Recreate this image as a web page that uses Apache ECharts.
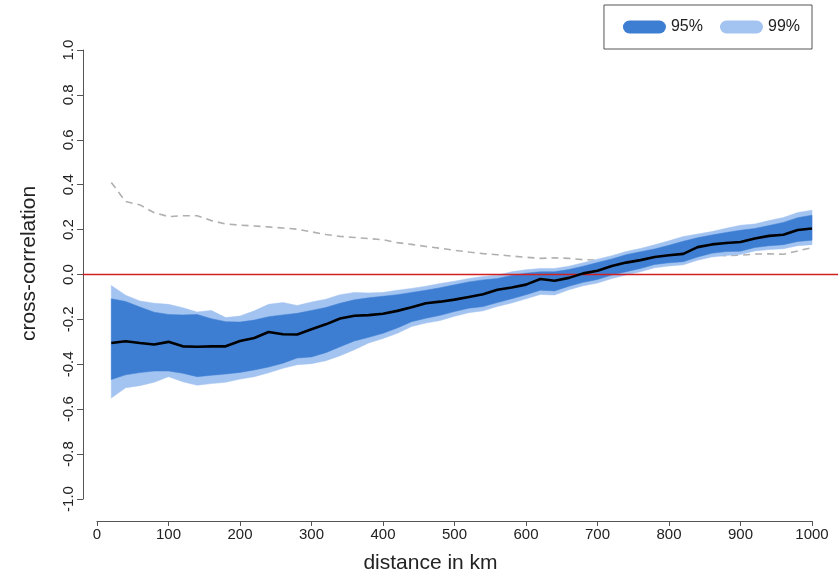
<!DOCTYPE html>
<html>
  <head>
    <meta charset="UTF-8">
    <title>cross-correlation</title>
    <script src="https://cdn.jsdelivr.net/npm/echarts@6/dist/echarts.min.js"></script>
    <style>
      html, body { margin: 0; padding: 0; background: #fff; }
      #chart { width: 838px; height: 579px; }
    </style>
  </head>
  <body>
    <div id="chart"></div>
    <script>
// distance (km)
const dist = [20, 40, 60, 80, 100, 120, 140, 160, 180, 200,
  220, 240, 260, 280, 300, 320, 340, 360, 380, 400,
  420, 440, 460, 480, 500, 520, 540, 560, 580, 600,
  620, 640, 660, 680, 700, 720, 740, 760, 780, 800,
  820, 840, 860, 880, 900, 920, 940, 960, 980, 1000];

// observed cross-correlation (black line)
const meanCorr = [-0.305, -0.297, -0.305, -0.312, -0.300, -0.320, -0.322, -0.320, -0.320, -0.296,
  -0.283, -0.256, -0.266, -0.267, -0.244, -0.222, -0.196, -0.184, -0.181, -0.175,
  -0.162, -0.146, -0.128, -0.121, -0.112, -0.100, -0.088, -0.068, -0.058, -0.045,
  -0.020, -0.028, -0.015, 0.005, 0.017, 0.038, 0.053, 0.064, 0.078, 0.086,
  0.092, 0.122, 0.134, 0.140, 0.145, 0.160, 0.172, 0.177, 0.198, 0.205];

// 95% envelope
const hi95 = [-0.108, -0.120, -0.145, -0.168, -0.178, -0.180, -0.178, -0.197, -0.210, -0.212,
  -0.203, -0.188, -0.180, -0.173, -0.160, -0.147, -0.128, -0.113, -0.104, -0.097,
  -0.090, -0.080, -0.070, -0.059, -0.046, -0.033, -0.024, -0.018, -0.004, 0.006,
  0.012, 0.012, 0.022, 0.037, 0.053, 0.069, 0.088, 0.101, 0.114, 0.130,
  0.148, 0.164, 0.176, 0.187, 0.197, 0.205, 0.218, 0.232, 0.253, 0.264];
const lo95 = [-0.468, -0.447, -0.437, -0.430, -0.430, -0.440, -0.455, -0.449, -0.443, -0.436,
  -0.425, -0.412, -0.395, -0.372, -0.367, -0.348, -0.322, -0.296, -0.280, -0.262,
  -0.238, -0.210, -0.195, -0.182, -0.165, -0.150, -0.143, -0.125, -0.108, -0.090,
  -0.070, -0.073, -0.052, -0.035, -0.022, -0.002, 0.012, 0.027, 0.045, 0.052,
  0.057, 0.078, 0.095, 0.102, 0.104, 0.120, 0.128, 0.133, 0.147, 0.153];

// 99% envelope
const hi99 = [-0.049, -0.092, -0.118, -0.128, -0.133, -0.148, -0.167, -0.160, -0.192, -0.185,
  -0.162, -0.133, -0.125, -0.138, -0.123, -0.110, -0.090, -0.080, -0.082, -0.080,
  -0.070, -0.062, -0.052, -0.040, -0.030, -0.018, -0.009, -0.003, 0.012, 0.021,
  0.027, 0.027, 0.037, 0.052, 0.068, 0.084, 0.102, 0.116, 0.132, 0.150,
  0.169, 0.180, 0.191, 0.206, 0.219, 0.225, 0.240, 0.254, 0.276, 0.286];
const lo99 = [-0.550, -0.505, -0.495, -0.480, -0.455, -0.478, -0.493, -0.486, -0.480, -0.466,
  -0.455, -0.438, -0.418, -0.402, -0.397, -0.384, -0.362, -0.335, -0.305, -0.285,
  -0.262, -0.232, -0.216, -0.205, -0.186, -0.170, -0.162, -0.142, -0.127, -0.108,
  -0.089, -0.091, -0.068, -0.050, -0.038, -0.018, -0.002, 0.012, 0.030, 0.038,
  0.043, 0.064, 0.078, 0.085, 0.089, 0.105, 0.111, 0.115, 0.128, 0.133];

// grey dashed line
const greyLine = [0.410, 0.325, 0.310, 0.275, 0.258, 0.262, 0.262, 0.240, 0.225, 0.220,
  0.216, 0.212, 0.207, 0.202, 0.190, 0.178, 0.170, 0.165, 0.160, 0.155,
  0.142, 0.134, 0.125, 0.117, 0.108, 0.100, 0.093, 0.088, 0.082, 0.077,
  0.072, 0.074, 0.072, 0.066, 0.064, 0.068, 0.072, 0.076, 0.080, 0.083,
  0.086, 0.090, 0.088, 0.084, 0.086, 0.091, 0.092, 0.090, 0.105, 0.120];

// red reference line at zero, drawn across the whole plot region
const zeroX = [-20, 1040];

const DARK = '#3d7ed3';
const LIGHT = '#a3c3f0';
const FONT = 'Liberation Sans, Arial, sans-serif';
// capsule shaped legend key
const PILL = 'path://M6.5,0 H36.5 A6.5,6.5 0 0 1 36.5,13 H6.5 A6.5,6.5 0 0 1 6.5,0 Z';

function pairs(xs, ys) {
  return xs.map((x, i) => [x, ys[i]]);
}

// polygon between an upper and a lower curve
function bandRenderer(upper, lower, color) {
  return function (params, api) {
    if (params.dataIndex !== 0) return;
    const pts = [];
    for (let i = 0; i < dist.length; i++) pts.push(api.coord([dist[i], upper[i]]));
    for (let i = dist.length - 1; i >= 0; i--) pts.push(api.coord([dist[i], lower[i]]));
    return {
      type: 'polygon',
      shape: { points: pts },
      style: { fill: color, stroke: color, lineWidth: 0.5 }
    };
  };
}

// abline(h = 0): spans past the axis range like R does
function zeroRenderer(params, api) {
  if (params.dataIndex !== 0) return;
  const a = api.coord([zeroX[0], 0]);
  const b = api.coord([zeroX[1], 0]);
  return {
    type: 'line',
    shape: { x1: a[0], y1: a[1], x2: b[0], y2: b[1] },
    style: { stroke: '#d02020', lineWidth: 1.6 }
  };
}

const chart = echarts.init(document.getElementById('chart'), null, { renderer: 'canvas' });

chart.setOption({
  animation: false,
  backgroundColor: '#fff',
  grid: { left: 97, right: 26, top: 50, bottom: 79 },
  legend: {
    data: ['95%', '99%'],
    right: 26,
    top: 5,
    orient: 'horizontal',
    icon: PILL,
    itemWidth: 43,
    itemHeight: 13,
    itemGap: 17,
    padding: [14, 12, 14, 19],
    borderColor: '#555',
    borderWidth: 1,
    borderRadius: 0,
    selectedMode: false,
    textStyle: { fontFamily: FONT, fontSize: 16, color: '#222' }
  },
  xAxis: {
    type: 'value',
    min: 0,
    max: 1000,
    interval: 100,
    offset: 22,
    name: 'distance in km',
    nameLocation: 'middle',
    nameGap: 32,
    nameTextStyle: { fontFamily: FONT, fontSize: 21, color: '#222', padding: [0, 48, 0, 0] },
    axisLine: { show: true, onZero: false, lineStyle: { color: '#555', width: 1 } },
    axisTick: { show: true, length: 5, lineStyle: { color: '#555' } },
    axisLabel: { fontFamily: FONT, fontSize: 15, color: '#222', margin: 6, formatter: v => String(v) },
    splitLine: { show: false }
  },
  yAxis: {
    type: 'value',
    min: -1,
    max: 1,
    interval: 0.2,
    offset: 14,
    name: 'cross-correlation',
    nameLocation: 'middle',
    nameRotate: 90,
    nameGap: 43,
    nameTextStyle: { fontFamily: FONT, fontSize: 21, color: '#222', padding: [0, 0, 0, 22] },
    axisLine: { show: true, onZero: false, lineStyle: { color: '#555', width: 1 } },
    axisTick: { show: true, length: 6, lineStyle: { color: '#555' } },
    axisLabel: {
      fontFamily: FONT, fontSize: 15, color: '#222', margin: 7, rotate: 90,
      formatter: v => v.toFixed(1)
    },
    splitLine: { show: false }
  },
  series: [
    {
      name: 'grey',
      type: 'line',
      data: pairs(dist, greyLine),
      showSymbol: false,
      silent: true,
      z: 1,
      lineStyle: { color: '#b0b0b0', width: 1.6, type: [7, 5] }
    },
    {
      name: '99%',
      type: 'custom',
      data: pairs(dist, hi99),
      encode: { x: 0, y: 1 },
      renderItem: bandRenderer(hi99, lo99, LIGHT),
      itemStyle: { color: LIGHT },
      silent: true,
      z: 2
    },
    {
      name: '95%',
      type: 'custom',
      data: pairs(dist, hi95),
      encode: { x: 0, y: 1 },
      renderItem: bandRenderer(hi95, lo95, DARK),
      itemStyle: { color: DARK },
      silent: true,
      z: 3
    },
    {
      name: 'zero',
      type: 'custom',
      data: [[zeroX[0], 0]],
      encode: { x: 0, y: 1 },
      renderItem: zeroRenderer,
      clip: false,
      silent: true,
      z: 4
    },
    {
      name: 'cross-correlation',
      type: 'line',
      data: pairs(dist, meanCorr),
      showSymbol: false,
      silent: true,
      z: 5,
      lineStyle: { color: '#000', width: 2.6 }
    }
  ]
});
    </script>
  </body>
</html>
